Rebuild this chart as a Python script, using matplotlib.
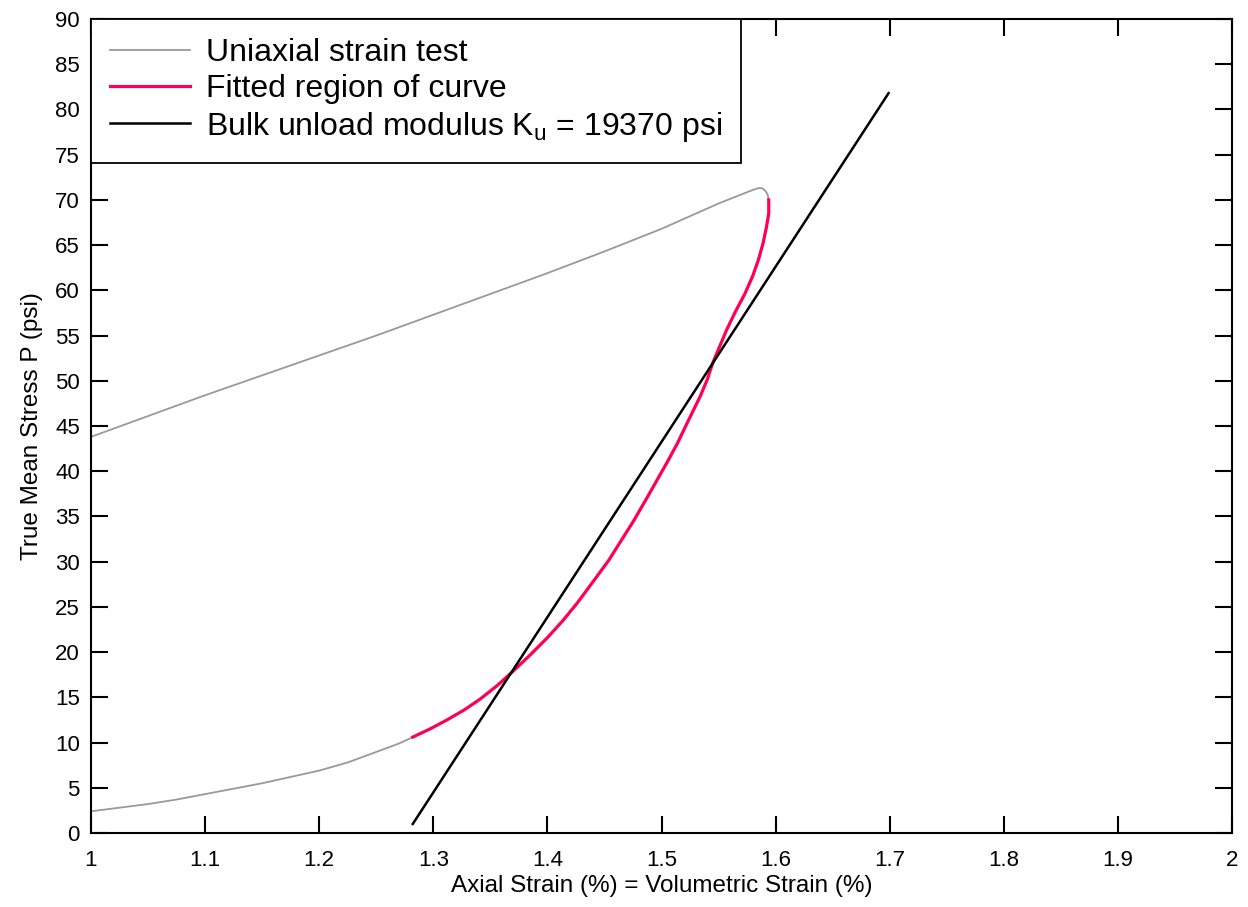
import numpy as np
import matplotlib.pyplot as plt

plt.rcParams['font.family'] = ['Liberation Sans', 'DejaVu Sans']
plt.rcParams['mathtext.fontset'] = 'custom'
plt.rcParams['mathtext.rm'] = 'Liberation Sans'
plt.rcParams['mathtext.it'] = 'Liberation Sans:italic'

# Uniaxial strain test (gray trace): loading, fitted part, tip, unloading
load_x = [1.0, 1.025, 1.05, 1.075, 1.1, 1.125, 1.15, 1.175, 1.2, 1.225, 1.253, 1.27, 1.282]
load_p = [2.4, 2.8, 3.2, 3.7, 4.3, 4.9, 5.5, 6.2, 6.9, 7.8, 9.1, 9.9, 10.6]

fit_x = [1.282, 1.297, 1.312, 1.327, 1.341, 1.356, 1.370, 1.385, 1.400, 1.413,
         1.426, 1.443, 1.454, 1.464, 1.476, 1.487, 1.496, 1.505, 1.514, 1.522,
         1.534, 1.540, 1.545, 1.551, 1.557, 1.565, 1.573, 1.580, 1.585, 1.589,
         1.592, 1.594, 1.594]
fit_p = [10.6, 11.5, 12.5, 13.6, 14.8, 16.3, 17.9, 19.7, 21.6, 23.4,
         25.4, 28.3, 30.2, 32.2, 34.6, 37.0, 39.0, 41.0, 43.1, 45.2,
         48.3, 50.1, 52.0, 53.8, 55.6, 57.7, 59.6, 61.6, 63.4, 65.2,
         67.0, 68.5, 70.0]

tip_x = [1.593, 1.591, 1.588, 1.585, 1.580]
tip_p = [70.6, 71.0, 71.3, 71.3, 71.1]

unload_x = [1.55, 1.5, 1.45, 1.4, 1.35, 1.3, 1.25, 1.2, 1.15, 1.1, 1.05, 1.0]
unload_p = [69.6, 66.8, 64.3, 61.9, 59.6, 57.3, 55.0, 52.8, 50.6, 48.4, 46.1, 43.8]

# Bulk unload modulus line
bulk_x = [1.282, 1.699]
bulk_p = [1.0, 81.8]

test_x = load_x + fit_x[1:] + tip_x + unload_x
test_p = load_p + fit_p[1:] + tip_p + unload_p

fig = plt.figure(figsize=(12.48, 9.07), dpi=100)
ax = fig.add_axes([91 / 1248, 1 - 833 / 907, 1141 / 1248, 814 / 907])

ax.plot(test_x, test_p, color='#999999', lw=1.3, solid_joinstyle='round',
        label='Uniaxial strain test')
ax.plot(fit_x, fit_p, color='#FF0055', lw=2.3, solid_joinstyle='round',
        label='Fitted region of curve')
ax.plot(bulk_x, bulk_p, color='black', lw=1.8,
        label=r'Bulk unload modulus K$_\mathregular{u}$ = 19370 psi')

ax.set_xlim(1, 2)
ax.set_ylim(0, 90)
ax.set_xticks(np.arange(1, 2.01, 0.1))
ax.set_xticklabels(['1', '1.1', '1.2', '1.3', '1.4', '1.5', '1.6', '1.7', '1.8', '1.9', '2'])
ax.set_yticks(np.arange(0, 91, 5))
ax.tick_params(direction='in', length=12, width=1.5, top=True, right=True,
               labelsize=16, pad=8)
ax.tick_params(axis='x', pad=12)
for s in ax.spines.values():
    s.set_linewidth(1.5)

ax.set_xlabel('Axial Strain (%) = Volumetric Strain (%)', fontsize=17.5, labelpad=3)
ax.set_ylabel('True Mean Stress P (psi)', fontsize=17.5, labelpad=9)

leg = ax.legend(loc='upper left', fontsize=23, frameon=True, fancybox=False,
                borderaxespad=0, handlelength=2.5, handletextpad=0.5,
                labelspacing=0.18, borderpad=0.6)
leg.get_frame().set_edgecolor('black')
leg.get_frame().set_linewidth(1.3)
leg.get_frame().set_alpha(1)

fig.savefig('out.png', dpi=100)
